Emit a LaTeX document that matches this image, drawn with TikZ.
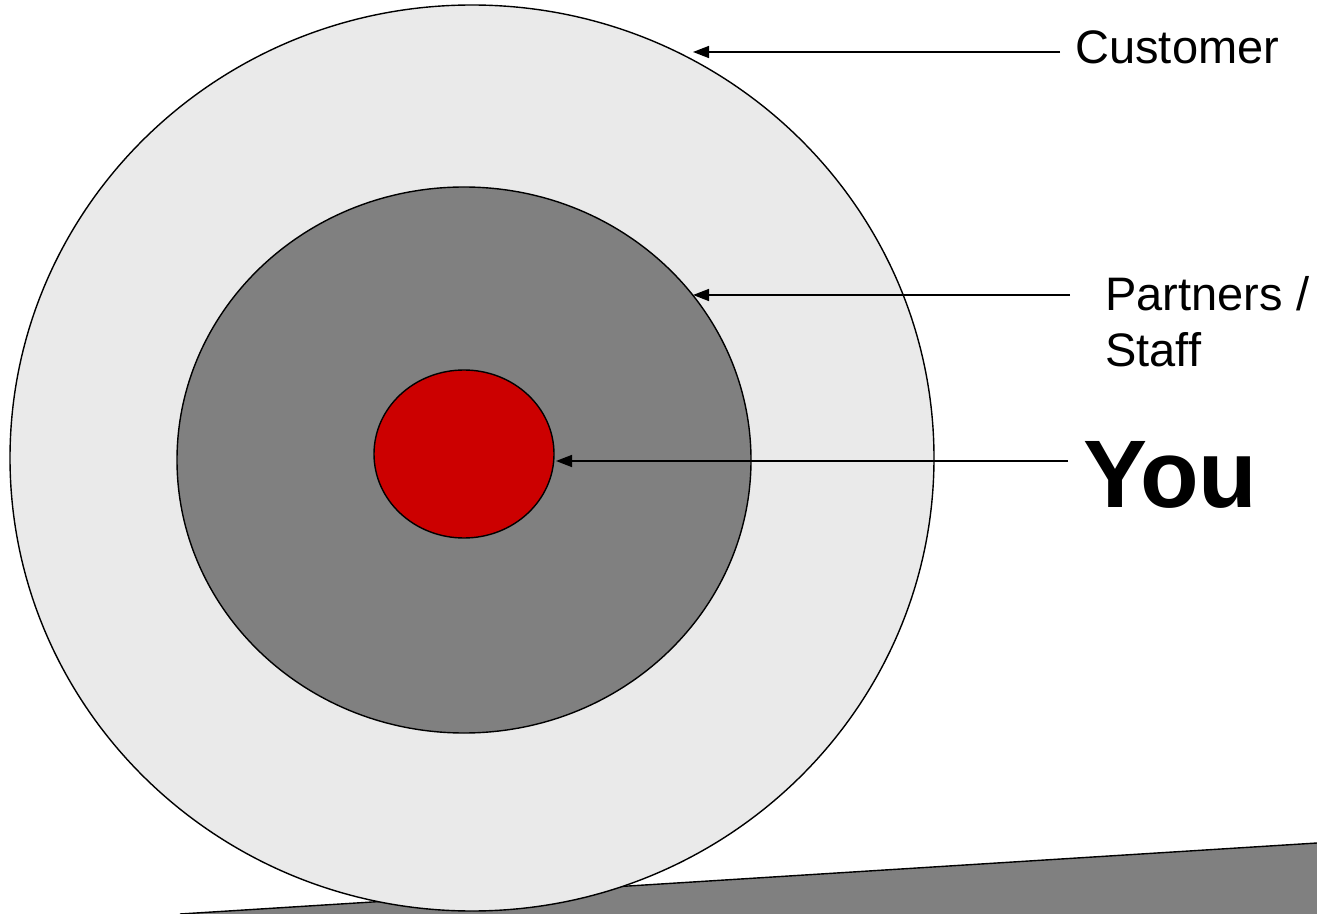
\documentclass[tikz,border=0pt]{standalone}
\usepackage{fontspec}
\setmainfont{Liberation Sans}
\usetikzlibrary{arrows.meta}
\definecolor{ring}{RGB}{234,234,234}
\definecolor{mid}{RGB}{128,128,128}
\definecolor{core}{RGB}{204,0,0}

\begin{document}
\begin{tikzpicture}[x=0.5pt,y=-0.5pt,>={Triangle[length=8pt,width=6pt]},
  lbl/.style={font=\fontsize{23.5}{28}\selectfont,anchor=base west,inner sep=0pt,align=left},
  ptr/.style={->,line width=0.75pt}]
  \useasboundingbox (0,0) rectangle (1317,914);
  % ramp behind the rings
  \fill[mid] (180,914) -- (1317,843) -- (1317,914) -- cycle;
  \draw[line width=0.7pt] (180,914) -- (1317,843);
  % rings
  \filldraw[fill=ring,line width=0.7pt] (472,458) ellipse [x radius=462,y radius=453];
  \filldraw[fill=mid,line width=0.7pt] (464,460) ellipse [x radius=287,y radius=273];
  \filldraw[fill=core,line width=0.7pt] (464,454) ellipse [x radius=90,y radius=84];
  % labels
  \node[lbl] (cust) at (1075,64) {Customer};
  \node[lbl] (staff) at (1105,367) {Partners /\\Staff};
  \node[lbl,font=\fontsize{48}{52}\selectfont\bfseries] (you) at (1083,508) {You};
  \coordinate (custtip) at (693,52);
  \coordinate (stafftip) at (693,295);
  \coordinate (youtip) at (556,461);
  \draw[ptr] (cust.west |- custtip) ++(-15,0) -- (custtip);
  \draw[ptr] (staff.west |- stafftip) ++(-35,0) -- (stafftip);
  \draw[ptr] (you.west |- youtip) ++(-15,0) -- (youtip);
\end{tikzpicture}
\end{document}
